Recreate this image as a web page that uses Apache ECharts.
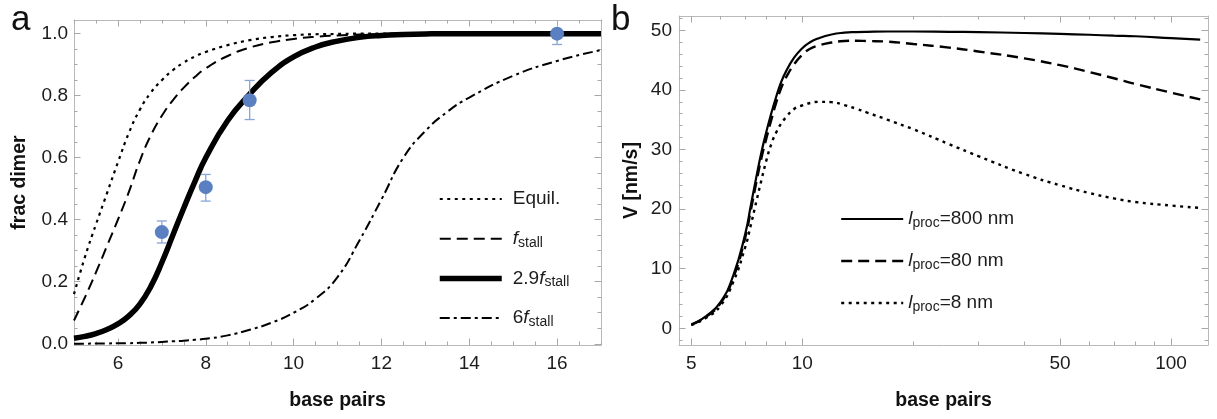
<!DOCTYPE html>
<html><head><meta charset="utf-8">
<script src="https://cdn.jsdelivr.net/npm/echarts@6/dist/echarts.min.js"></script>
<style>html,body{margin:0;padding:0;background:#fff}#c{width:1217px;height:419px}</style>
</head><body><div id="c"></div>
<script>
// ---------- Panel a: fraction dimer vs base pairs ----------
const bpA = [5,5.25,5.5,5.75,6,6.25,6.5,6.75,7,7.25,7.5,7.75,8,8.5,9,9.5,10,10.5,11,11.5,12,12.5,13,13.5,14,15,16,17];
const equil = [0.16,0.28,0.385,0.485,0.585,0.68,0.755,0.81,0.85,0.882,0.907,0.926,0.941,0.963,0.979,0.989,0.995,0.998,0.999,1.0,1,1,1,1,1,1,1,1];
const fStall = [0.075,0.15,0.23,0.315,0.4,0.49,0.59,0.672,0.735,0.785,0.826,0.86,0.888,0.928,0.955,0.972,0.983,0.99,0.994,0.997,0.998,0.999,1,1,1,1,1,1];
const f29Stall = [0.018,0.024,0.033,0.046,0.064,0.09,0.128,0.185,0.262,0.35,0.438,0.522,0.6,0.72,0.805,0.875,0.925,0.957,0.976,0.988,0.994,0.997,0.999,1,1,1,1,1];
const f6Stall = [0,0,0.001,0.001,0.002,0.002,0.003,0.004,0.006,0.008,0.01,0.013,0.016,0.027,0.045,0.068,0.1,0.145,0.215,0.333,0.465,0.6,0.686,0.748,0.794,0.864,0.912,0.947];
const expX = [7,8,9,16];
const expY = [0.36,0.505,0.785,1.0];
const expLo = [0.325,0.46,0.723,0.965];
const expHi = [0.396,0.546,0.849,1.01];
const namesA = ['Equil.','f_stall','2.9f_stall','6f_stall'];
const xLabelsA = [6,8,10,12,14,16];
const xMinorA = [5,5.5,6,6.5,7,7.5,8,8.5,9,9.5,10,10.5,11,11.5,12,12.5,13,13.5,14,14.5,15,15.5,16,16.5,17];
const yLabelsA = [0,0.2,0.4,0.6,0.8,1.0];
const yMinorA = [0,0.05,0.1,0.15,0.2,0.25,0.3,0.35,0.4,0.45,0.5,0.55,0.6,0.65,0.7,0.75,0.8,0.85,0.9,0.95,1.0];

// ---------- Panel b: velocity vs base pairs (log) ----------
const bpB = [5,5.5,6,6.5,7,7.25,7.5,7.75,8,8.25,8.5,8.75,9,9.5,10,10.5,11,12,13,14,15,17,20,25,30,40,50,60,70,80,100,120];
const v800 = [0.6,2.1,4.4,8.9,15.8,20.6,25.3,29.6,33.1,36.2,38.9,41.2,42.9,45.4,47.0,48.0,48.6,49.3,49.6,49.7,49.75,49.8,49.8,49.75,49.7,49.55,49.4,49.25,49.1,49.0,48.7,48.45];
const v80 = [0.6,2.0,4.2,8.5,15.2,19.8,24.4,28.6,32.0,35.1,37.9,40.2,41.9,44.3,45.9,46.9,47.4,47.95,48.2,48.25,48.2,48.1,47.7,47.1,46.45,45.3,44.15,43.0,41.95,41.0,39.55,38.4];
const v8 = [0.55,1.8,3.8,7.8,13.6,17.3,21.2,24.9,28.3,31.0,32.9,34.3,35.3,36.8,37.4,37.8,38.0,37.95,37.45,36.85,36.2,35.0,33.4,30.9,28.9,25.9,24.0,22.7,21.8,21.2,20.6,20.2];
const namesB = ['lproc800','lproc80','lproc8'];
const xLabelsB = [5,10,50,100];
const xMajorB = [5,10,50,100];
const xMinorB = [5,6,7,8,9,10,20,30,40,50,60,70,80,90,100];
const yLabelsB = [0,10,20,30,40,50];
const yMinorB = [-2,0,2,4,6,8,10,12,14,16,18,20,22,24,26,28,30,32,34,36,38,40,42,44,46,48,50,52];

// ---------- styling ----------
const FONT = 'Liberation Sans, Arial, sans-serif';
const frameColor = '#b9b9b9';
const tickColor = '#a8a8a8';
const labelColor = '#1c1c1c';
const markerColor = '#5b80c2';
const errColor = '#89a5d6';

function pair(xs, ys){ return xs.map((x,i)=>[x, ys[i]]); }

function axesSet(dim, g, base, labels, majors, minors, labelFmt, labelMargin, name, nameGap){
  const posA = dim === 'x' ? 'bottom' : 'left';
  const posB = dim === 'x' ? 'top' : 'right';
  const mk = (pos, ticks, len, withLabels, showLine) => Object.assign({
    gridIndex: g, position: pos, splitLine: {show:false},
    axisLine: {show: showLine, onZero:false, lineStyle:{color: frameColor, width:1}},
    axisTick: {show:true, inside:true, length:len, customValues: ticks, lineStyle:{color: tickColor, width:1}},
    axisLabel: withLabels ? {show:true, customValues: labels, formatter: labelFmt, margin: labelMargin,
                              fontSize:19, color: labelColor, fontFamily: FONT} : {show:false},
    name: withLabels ? name : '',
    nameLocation: 'middle', nameGap: nameGap,
    nameTextStyle: {fontSize:19.5, fontWeight:'bold', color:'#111', fontFamily: FONT}
  }, base);
  return [mk(posA, minors, 3.5, true, true), mk(posA, majors, 6.5, false, false),
          mk(posB, minors, 3.5, false, true), mk(posB, majors, 6.5, false, false)];
}

const xAxes = [].concat(
  axesSet('x', 0, {type:'value', min:5, max:17}, xLabelsA, xLabelsA, xMinorA, v=>String(v), 9, 'base pairs', 46),
  axesSet('x', 1, {type:'log', logBase:10, min:4.63, max:126}, xLabelsB, xMajorB, xMinorB, v=>String(Math.round(v)), 9, 'base pairs', 46)
);
const yAxes = [].concat(
  axesSet('y', 0, {type:'value', min:-0.004, max:1.044}, yLabelsA, yLabelsA, yMinorA, v=>v.toFixed(1), 6, 'frac dimer', 44),
  axesSet('y', 1, {type:'value', min:-2.8, max:52.4}, yLabelsB, yLabelsB, yMinorB, v=>String(v), 7, 'V [nm/s]', 37)
);

const richSub = {
  it: {fontStyle:'italic', fontSize:19, lineHeight:22, color: labelColor, fontFamily: FONT},
  sub: {fontSize:14, lineHeight:14, verticalAlign:'bottom', color: labelColor, fontFamily: FONT},
  n: {fontSize:19, lineHeight:22, color: labelColor, fontFamily: FONT}
};
const legendTextA = {
  'Equil.': '{n|Equil.}',
  'f_stall': '{it|f}{sub|stall}',
  '2.9f_stall': '{n|2.9}{it|f}{sub|stall}',
  '6f_stall': '{n|6}{it|f}{sub|stall}'
};
const legendTextB = {
  'lproc800': '{it|l}{sub|proc}{n|=800 nm}',
  'lproc80': '{it|l}{sub|proc}{n|=80 nm}',
  'lproc8': '{it|l}{sub|proc}{n|=8 nm}'
};

function lineSeries(name, xi, yi, data, width, dash){
  return {
    name, type:'line', xAxisIndex: xi, yAxisIndex: yi, data, showSymbol:false, symbol:'none',
    smooth: 0.5, clip: true, z: 3,
    lineStyle: {color:'#000', width, type: dash || 'solid', cap: 'butt'},
    itemStyle: {color:'#000'}
  };
}

const series = [
  lineSeries(namesA[0], 0, 0, pair(bpA, equil), 2.2, [3, 4.5]),
  lineSeries(namesA[1], 0, 0, pair(bpA, fStall), 2, [11, 6]),
  lineSeries(namesA[2], 0, 0, pair(bpA, f29Stall), 5.5, 'solid'),
  lineSeries(namesA[3], 0, 0, pair(bpA, f6Stall), 2, [10, 4, 3, 4]),
  {
    name:'err', type:'custom', xAxisIndex:0, yAxisIndex:0, z:4,
    data: expX.map((x,i)=>[x, expLo[i], expHi[i]]),
    encode: {x:0, y:[1,2]},
    renderItem: function(params, api){
      const x = api.value(0);
      const lo = api.coord([x, api.value(1)]);
      const hi = api.coord([x, api.value(2)]);
      const w = 5;
      const st = {stroke: errColor, lineWidth: 1.3};
      return {type:'group', children:[
        {type:'line', shape:{x1:lo[0], y1:lo[1], x2:hi[0], y2:hi[1]}, style: st},
        {type:'line', shape:{x1:lo[0]-w, y1:lo[1], x2:lo[0]+w, y2:lo[1]}, style: st},
        {type:'line', shape:{x1:hi[0]-w, y1:hi[1], x2:hi[0]+w, y2:hi[1]}, style: st}
      ]};
    }
  },
  {
    name:'data', type:'scatter', xAxisIndex:0, yAxisIndex:0, z:5,
    data: pair(expX, expY), symbol:'circle', symbolSize: 14,
    itemStyle: {color: markerColor, opacity: 1}
  },
  lineSeries(namesB[0], 4, 4, pair(bpB, v800), 2.2, 'solid'),
  lineSeries(namesB[1], 4, 4, pair(bpB, v80), 2.4, [11, 6]),
  lineSeries(namesB[2], 4, 4, pair(bpB, v8), 2.4, [3, 4.5])
];

const option = {
  animation: false,
  backgroundColor: '#ffffff',
  title: [
    {text:'a', left: 6, top: -2, textStyle:{fontSize:35, fontWeight:'normal', color:'#111', fontFamily: FONT}},
    {text:'b', left: 606, top: -2, textStyle:{fontSize:35, fontWeight:'normal', color:'#111', fontFamily: FONT}}
  ],
  grid: [
    {left: 74, top: 20, width: 527, height: 325},
    {left: 679, top: 16, width: 529, height: 329}
  ],
  xAxis: xAxes,
  yAxis: yAxes,
  legend: [
    {
      data: namesA, orient:'vertical', left: 437, top: 188, padding: 0, itemWidth: 62, itemHeight: 14, itemGap: 17.7,
      selectedMode: false,
      itemStyle: {opacity: 0},
      lineStyle: {width: 'inherit'},
      textStyle: {fontSize:19, color: labelColor, fontFamily: FONT, lineHeight:22, padding:[0,0,0,6], rich: richSub},
      formatter: n => legendTextA[n]
    },
    {
      data: namesB, orient:'vertical', left: 840, top: 208, padding: 0, itemWidth: 62, itemHeight: 14, itemGap: 20,
      selectedMode: false,
      itemStyle: {opacity: 0},
      lineStyle: {width: 'inherit'},
      textStyle: {fontSize:19, color: labelColor, fontFamily: FONT, lineHeight:22, rich: richSub},
      formatter: n => legendTextB[n]
    }
  ],
  series
};

const chart = echarts.init(document.getElementById('c'), null, {renderer:'canvas'});
chart.setOption(option);
</script>
</body></html>
